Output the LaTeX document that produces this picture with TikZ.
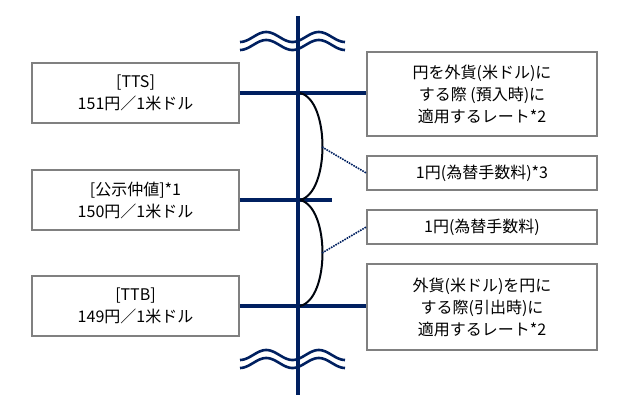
\documentclass[tikz,border=0pt]{standalone}
\usepackage{fontspec}
\setmainfont{Noto Sans CJK JP}
\definecolor{navy}{RGB}{0,32,96}
\definecolor{boxgray}{RGB}{128,128,128}
\tikzset{
  ratebox/.style={draw=boxgray,line width=1.5pt,fill=white,align=center,inner sep=0pt,font=\fontsize{16}{22}\selectfont},
  axis/.style={navy,line width=3.2pt},
  wave/.style={navy,line width=2.6pt},
  brace/.style={black!85!navy,line width=2pt},
  link/.style={navy,line width=1.6pt,densely dotted}
}
\begin{document}
\begin{tikzpicture}[x=1pt,y=-1pt]
\useasboundingbox (0,0) rectangle (630,420);
% Main axis
\coordinate (top) at (298,16);
\coordinate (bottom) at (298,395);
\draw[axis] (top) -- (bottom);
% Waves
\foreach \y in {37,45,355,363}
  \draw[wave,shift={(240,\y)}] plot[domain=0:105,samples=60,smooth] (\x,{5*sin(6.857*\x+90)});
% Boxes on the left
\node[ratebox,minimum width=207pt,minimum height=60pt] (tts) at (135.5,93) {[TTS]\\151円／1米ドル};
\node[ratebox,minimum width=207pt,minimum height=60pt] (mid) at (135.5,200) {[公示仲値]*1\\150円／1米ドル};
\node[ratebox,minimum width=207pt,minimum height=60pt] (ttb) at (135.5,306) {[TTB]\\149円／1米ドル};
% Boxes on the right
\node[ratebox,minimum width=230pt,minimum height=84pt] (buy) at (482,94) {円を外貨(米ドル)に\\する際 (預入時)に\\適用するレート*2};
\node[ratebox,minimum width=230pt,minimum height=34pt] (feeA) at (482,173) {1円(為替手数料)*3};
\node[ratebox,minimum width=230pt,minimum height=34pt] (feeB) at (482,227) {1円(為替手数料)};
\node[ratebox,minimum width=230pt,minimum height=86pt] (sell) at (482,307) {外貨(米ドル)を円に\\する際(引出時)に\\適用するレート*2};
% Rate lines
\draw[axis] (tts.east) -- (buy.west |- tts.east);
\draw[axis] (mid.east) -- (332,200);
\draw[axis] (ttb.east) -- (sell.west |- ttb.east);
% Braces
\coordinate (upper) at (300,93);
\coordinate (centre) at (300,200);
\coordinate (lower) at (300,306);
\draw[brace] (upper) .. controls (330,100) and (330,193) .. (centre);
\draw[brace] (centre) .. controls (330,207) and (330,299) .. (lower);
\coordinate (tipA) at (322,147);
\coordinate (tipB) at (322,253);
\draw[link] (tipA) -- (feeA.west);
\draw[link] (tipB) -- (feeB.west);
\end{tikzpicture}
\end{document}
